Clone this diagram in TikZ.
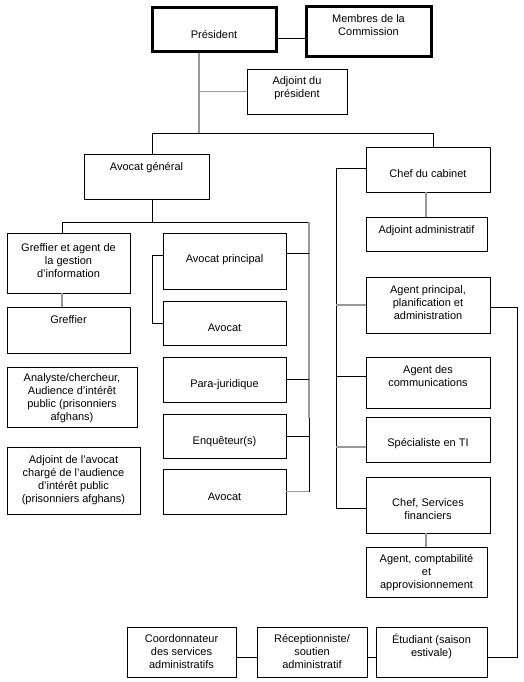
\documentclass[tikz,border=0pt]{standalone}
\usepackage{fontspec}
\setmainfont{Liberation Sans}
\usetikzlibrary{calc}
\tikzset{
  box/.style={draw, rectangle, line width=0.9pt, inner sep=0pt},
  thickbox/.style={box, line width=3pt},
  txt/.style={align=center, inner sep=0pt, font=\fontsize{11}{13}\selectfont,
    execute at begin node=\strut, execute at end node=\strut},
  conn/.style={line width=0.9pt, black},
  gconn/.style={line width=1.3pt, black!40},
}
\newcommand\mkbox[6]{\node[#1, minimum width={(#5-#3)*1pt}, minimum height={(#6-#4)*1pt}] (#2) at ({(#3+#5)/2},{(#4+#6)/2}) {};}
\begin{document}
\begin{tikzpicture}[x=1pt,y=-1pt]
\useasboundingbox (0,0) rectangle (523,682);
% boxes
\mkbox{thickbox}{pres}{152}{8}{276}{52}
\mkbox{thickbox}{membres}{306}{7}{431}{57}
\mkbox{box}{adjpres}{247}{69}{347}{114}
\mkbox{box}{avgen}{84}{154}{209}{199}
\mkbox{box}{chefcab}{366}{147}{490}{192}
\mkbox{box}{adjadm}{366}{217}{487}{251}
\mkbox{box}{greffag}{7}{233}{130}{293}
\mkbox{box}{greffier}{7}{307}{130}{353}
\mkbox{box}{analyste}{7}{367}{137}{427}
\mkbox{box}{adjav}{7}{447}{140}{514}
\mkbox{box}{avprin}{163}{233}{286}{289}
\mkbox{box}{avocatA}{163}{301}{286}{345}
\mkbox{box}{parajur}{163}{357}{286}{402}
\mkbox{box}{enq}{163}{414}{286}{458}
\mkbox{box}{avocatB}{163}{469}{286}{514}
\mkbox{box}{agprin}{366}{277}{490}{333}
\mkbox{box}{agcomm}{366}{357}{490}{408}
\mkbox{box}{specti}{366}{417}{490}{462}
\mkbox{box}{chefsf}{366}{477}{490}{533}
\mkbox{box}{agcompt}{366}{547}{487}{597}
\mkbox{box}{etud}{376}{627}{487}{677}
\mkbox{box}{recep}{257}{627}{367}{677}
\mkbox{box}{coord}{127}{627}{236}{677}
% texts
\node[txt] (pres-t) at (214,36.4) {Président};
\node[txt] (membres-t) at (368.5,27) {Membres de la\\Commission};
\node[txt] (adjpres-t) at (297,89.4) {Adjoint du\\président};
\node[txt] (avgen-t) at (146.5,167.4) {Avocat général};
\node[txt] (chefcab-t) at (428,174.4) {Chef du cabinet};
\node[txt] (adjadm-t) at (426.5,230.4) {Adjoint administratif};
\node[txt] (greffag-t) at (68.5,262.7) {Greffier et agent de\\la gestion\\d’information};
\node[txt] (greffier-t) at (68.5,320.4) {Greffier};
\node[txt] (analyste-t) at (72,399.2) {Analyste/chercheur,\\Audience d’intérêt\\public (prisonniers\\afghans)};
\node[txt] (adjav-t) at (73.5,481) {Adjoint de l’avocat\\chargé de l’audience\\d’intérêt public\\(prisonniers afghans)};
\node[txt] (avprin-t) at (224.5,259.4) {Avocat principal};
\node[txt] (avocatA-t) at (224.5,328.4) {Avocat};
\node[txt] (parajur-t) at (224.5,384.4) {Para-juridique};
\node[txt] (enq-t) at (224.5,441.4) {Enquêteur(s)};
\node[txt] (avocatB-t) at (224.5,497.4) {Avocat};
\node[txt] (agprin-t) at (428,304) {Agent principal,\\planification et\\administration};
\node[txt] (agcomm-t) at (428,378) {Agent des\\communications};
\node[txt] (specti-t) at (428,443.4) {Spécialiste en TI};
\node[txt] (chefsf-t) at (428,511) {Chef, Services\\financiers};
\node[txt] (agcompt-t) at (426.5,573.7) {Agent, comptabilité\\et\\approvisionnement};
\node[txt] (etud-t) at (431.5,647) {Étudiant (saison\\estivale)};
\node[txt] (recep-t) at (312,653.4) {Réceptionniste/\\soutien\\administratif};
\node[txt] (coord-t) at (181.5,653.4) {Coordonnateur\\des services\\administratifs};
% junction coordinates
\coordinate (pm) at (277,38);
\coordinate (j0) at (199,133);
\coordinate (jL) at (152,133);
\coordinate (jR) at (433,133);
\coordinate (j1) at (152,222);
\coordinate (j2) at (62,222);
\coordinate (j3) at (309,222);
\coordinate (j4) at (309,418);
\coordinate (a1) at (309,253);
\coordinate (b1) at (152,255);
\coordinate (b2) at (152,323);
\coordinate (g1) at (62,0);
\coordinate (s1) at (336,168);
\coordinate (s2) at (336,508);
\coordinate (s3) at (336,376);
\coordinate (s4) at (336,447);
\coordinate (v1) at (426,0);
\coordinate (r1) at (517,307);
\coordinate (r2) at (517,657);
% connectors
\draw[conn] (pres.east |- pm) -- (membres.west |- pm);
\draw[gconn] (pres.south -| j0) -- (j0);
\draw[gconn] (adjpres.west) -- (adjpres.west -| j0);
\draw[conn] (jL |- avgen.north) -- (jL) -- (jR) -- (jR |- chefcab.north);
\draw[conn] (j1 |- avgen.south) -- (j1);
\draw[conn] (j2 |- greffag.north) -- (j2) -- (j3);
\draw[gconn] (greffag.south -| g1) -- (greffier.north -| g1);
\draw[gconn] (j3) -- (j4);
\draw[conn] (j4) -- (avocatB.east -| j4);
\draw[gconn] (avocatB.east) -- (avocatB.east -| j4);
\draw[conn] (avprin.east |- a1) -- (a1);
\draw[conn] (parajur.east) -- (parajur.east -| j3);
\draw[conn] (enq.east) -- (enq.east -| j3);
\draw[conn] (avprin.west |- b1) -- (b1) -- (b2) -- (avocatA.west |- b2);
\draw[conn] (chefcab.west |- s1) -- (s1) -- (s2) -- (chefsf.west |- s2);
\draw[gconn] (agprin.west) -- (agprin.west -| s1);
\draw[conn] (agcomm.west |- s3) -- (s3);
\draw[gconn] (specti.west |- s4) -- (s4);
\draw[gconn] (chefcab.south -| v1) -- (adjadm.north -| v1);
\draw[gconn] (chefsf.south -| v1) -- (agcompt.north -| v1);
\draw[conn] (agprin.east |- r1) -- (r1) -- (r2) -- (etud.east |- r2);
\draw[conn] (etud.west |- r2) -- (recep.east |- r2);
\draw[conn] (recep.west |- r2) -- (coord.east |- r2);
\end{tikzpicture}
\end{document}
